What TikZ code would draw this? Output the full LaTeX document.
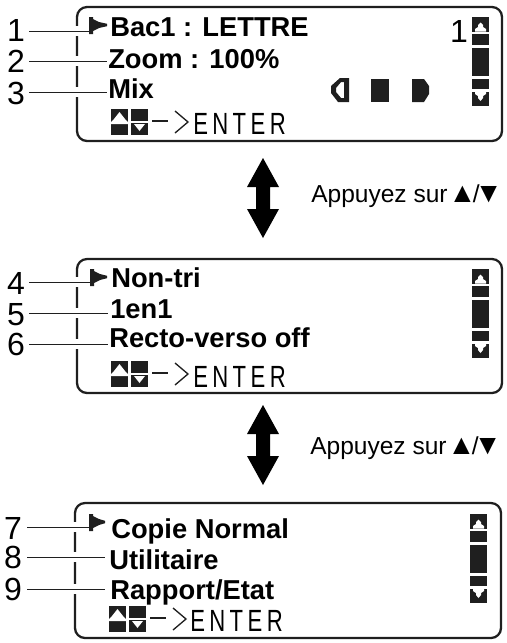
\documentclass[tikz,border=0pt]{standalone}
\usepackage{fontspec}
\setmainfont{Liberation Sans}
\definecolor{ink}{gray}{0.12}
\tikzset{
  panel/.style={draw=ink,line width=1.7pt,rounded corners=7.5pt},
  lead/.style={draw=ink,line width=0.75pt},
  numlab/.style={font=\fontsize{24}{26}\selectfont,inner sep=0pt,anchor=base},
  menu/.style={font=\bfseries\fontsize{20.5}{22}\selectfont,inner sep=0pt,anchor=base west},
  enterlab/.style={font=\fontsize{23}{24}\selectfont,inner sep=0pt,anchor=base west},
  press/.style={font=\fontsize{18.4}{20}\selectfont,inner sep=0pt,anchor=base west}
}
\newfontfamily\enterfont[LetterSpace=20]{Liberation Sans}
\newcommand{\cursormark}[3]{% left x, centre y, tail length
  \fill[ink] (#1,#2-8) -- (#1+4,#2-8) -- (#1+4,#2-6) -- (#1+10,#2-3) -- (#1+#3,#2-1.2) -- (#1+#3,#2+1.2) -- (#1+10,#2+3) -- (#1+4,#2+6) -- (#1+4,#2+9) -- (#1,#2+9) -- cycle;}
\newcommand{\leadline}[4]{% panel edge x, from x, to node/coordinate, y
  \fill[white] (#1-2,#4-5) rectangle (#1+2,#4+5);
  \draw[lead] (#2,#4) -- (#3);}
\newcommand{\scrollbar}[2]{% x, ytop
  \fill[ink] (#1,#2) rectangle (#1+17,#2+14.5);
  \fill[white] (#1+8.5,#2+5.5) -- (#1+11,#2+8) -- (#1+11,#2+10) -- (#1+14,#2+12) -- (#1+14,#2+14.5) -- (#1+3,#2+14.5) -- (#1+3,#2+12) -- (#1+6,#2+10) -- (#1+6,#2+8) -- cycle;
  \fill[ink] (#1,#2+17) rectangle (#1+17,#2+28);
  \fill[ink] (#1,#2+31) rectangle (#1+17,#2+59);
  \fill[ink] (#1,#2+61.5) rectangle (#1+17,#2+72);
  \fill[ink] (#1,#2+75) rectangle (#1+17,#2+89);
  \fill[white] (#1+8.5,#2+84) -- (#1+11,#2+81) -- (#1+11,#2+79) -- (#1+14,#2+77) -- (#1+14,#2+75) -- (#1+3,#2+75) -- (#1+3,#2+77) -- (#1+6,#2+79) -- (#1+6,#2+81) -- cycle;}
\newcommand{\keyrow}[2]{% x, ybase
  \fill[ink] (#1,#2-26) rectangle (#1+17,#2);
  \fill[white] (#1+8.5,#2-23) -- (#1+14,#2-16) -- (#1+17,#2-13) -- (#1+17,#2-11) -- (#1,#2-11) -- (#1,#2-13) -- (#1+3,#2-16) -- cycle;
  \fill[ink] (#1+20,#2-26) rectangle (#1+37,#2);
  \fill[white] (#1+20,#2-14) rectangle (#1+37,#2-12);
  \fill[white] (#1+28.5,#2-4) -- (#1+23,#2-11) -- (#1+34,#2-11) -- cycle;
  \draw[ink,line width=1pt] (#1+41,#2-14) -- (#1+57,#2-14);
  \draw[ink,line width=1pt] (#1+64,#2-24) -- (#1+77,#2-13) -- (#1+64,#2-2);}
\newcommand{\updown}[2]{% centre x, y top
  \fill[black] (#1,#2) -- (#1+16,#2+29) -- (#1+7,#2+29) -- (#1+7,#2+51) -- (#1+16,#2+51) -- (#1,#2+80) -- (#1-16,#2+51) -- (#1-7,#2+51) -- (#1-7,#2+29) -- (#1-16,#2+29) -- cycle;}
\newcommand{\entertext}{\scalebox{0.72}[1]{\enterfont ENTER}}
\newcommand{\presstext}{Appuyez sur\kern.7pt{\fontsize{21}{22}\selectfont ▲}\kern-2.6pt/\kern-3.6pt{\fontsize{21}{22}\selectfont ▼}}
\begin{document}
\begin{tikzpicture}[x=0.75pt,y=-0.75pt]
\useasboundingbox (0,0) rectangle (507,643);
% panels
\draw[panel] (77,7) rectangle (502,141);
\draw[panel] (77,259) rectangle (502,393);
\draw[panel] (75,503) rectangle (501,638);
% first panel
\node[menu] (m1) at (110,36) {Bac1 : LETTRE};
\node[menu] (m2) at (108,68) {Zoom : 100\%};
\node[menu] (m3) at (108,98) {Mix};
\node[numlab] (n1) at (16,41) {1};
\node[numlab] (n2) at (16,72) {2};
\node[numlab] (n3) at (16,104) {3};
\coordinate (c1) at (90,31);
\coordinate (t2) at (107,61);
\coordinate (t3) at (107,92);
\cursormark{89}{25}{18}
\leadline{77}{29}{c1}{31}
\leadline{77}{29}{t2}{61}
\leadline{77}{29}{t3}{92}
\keyrow{111}{135}
\node[enterlab] (e1) at (193,134) {\entertext};
\node[numlab] (p1) at (459,42) {1};
\scrollbar{472}{17}
\fill[ink,even odd rule] (340,78) -- (349,78) -- (349,102) -- (338,102) -- (331,93) -- (331,86) -- cycle
  (341,82) -- (336,88) -- (336,92) -- (341,98) -- (344,98) -- (344,82) -- cycle;
\fill[ink] (371,79) rectangle (389,102);
\fill[ink] (412,79) -- (424,79) -- (429,86) -- (429,94) -- (424,102) -- (412,102) -- cycle;
% first press
\updown{263}{158}
\node[press] (a1) at (311,202) {\presstext};
% second panel
\node[menu] (m4) at (111,287) {Non-tri};
\node[menu] (m5) at (110,318) {1en1};
\node[menu] (m6) at (109,347) {Recto-verso off};
\node[numlab] (n4) at (16,294) {4};
\node[numlab] (n5) at (16,325) {5};
\node[numlab] (n6) at (16,355) {6};
\coordinate (c4) at (90,282);
\coordinate (t5) at (108,313);
\coordinate (t6) at (108,344);
\cursormark{90}{277}{17}
\leadline{77}{29}{c4}{282}
\leadline{77}{29}{t5}{313}
\leadline{77}{29}{t6}{344}
\keyrow{111}{387}
\node[enterlab] (e2) at (193,387) {\entertext};
\scrollbar{472}{269}
% second press
\updown{263}{405}
\node[press] (a2) at (310,454) {\presstext};
% third panel
\node[menu] (m7) at (111,538) {Copie Normal};
\node[menu] (m8) at (109,569) {Utilitaire};
\node[menu] (m9) at (110,599) {Rapport/Etat};
\node[numlab] (n7) at (13,539) {7};
\node[numlab] (n8) at (13,568) {8};
\node[numlab] (n9) at (13,600) {9};
\coordinate (c7) at (89,527);
\coordinate (t8) at (105,557);
\coordinate (t9) at (105,589);
\cursormark{89}{522}{16}
\leadline{75}{27}{c7}{527}
\leadline{75}{27}{t8}{557}
\leadline{75}{27}{t9}{589}
\keyrow{109}{632}
\node[enterlab] (e3) at (190,631) {\entertext};
\scrollbar{470}{514}
\end{tikzpicture}
\end{document}
